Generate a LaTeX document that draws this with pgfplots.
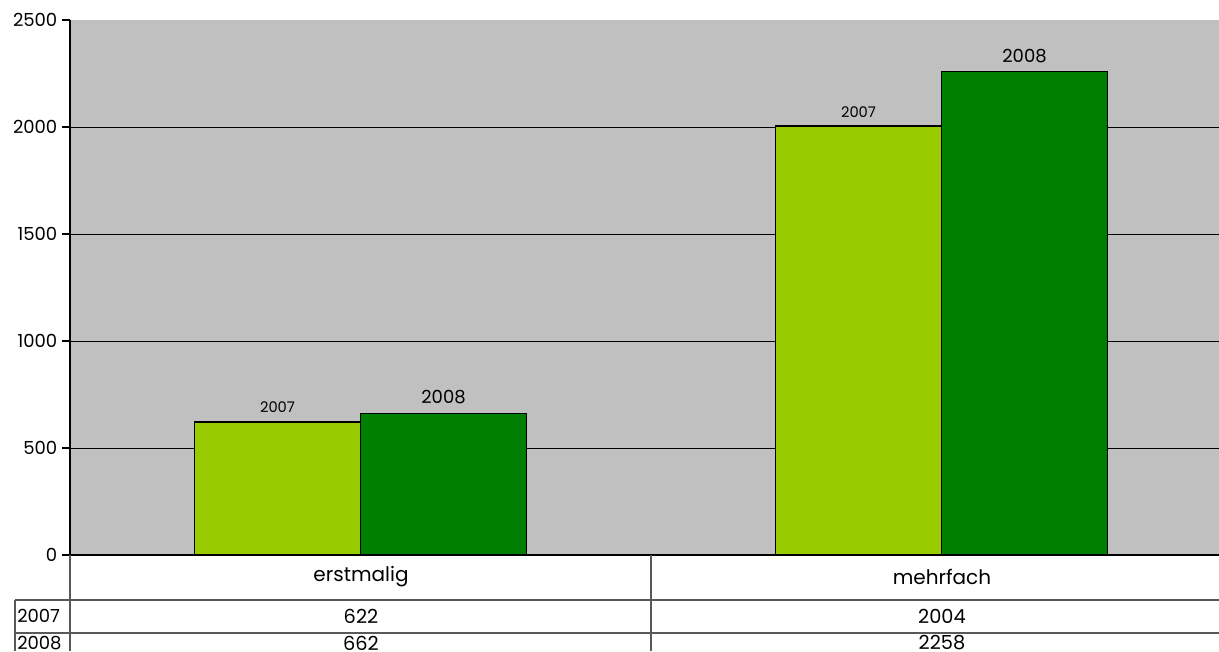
\documentclass[border=0pt]{standalone}
\usepackage{fontspec}
\setmainfont{Poppins}
\usepackage{pgfplots}
\pgfplotsset{compat=1.18}
\definecolor{lgreen}{HTML}{99CC00}
\definecolor{dgreen}{HTML}{008000}
\definecolor{bg}{HTML}{C0C0C0}
\begin{document}
\begin{tikzpicture}[x=0.75pt,y=0.75pt]
\begin{axis}[
  at={(0,0)}, anchor=south west,
  scale only axis, width=861.75pt, height=401.25pt,
  xmin=-0.5, xmax=1.4776, ymin=0, ymax=2500,
  axis lines*=left,
  axis line style={black, line width=1pt},
  axis background/.style={fill=bg},
  ytick={0,500,1000,1500,2000,2500}, xtick=\empty,
  tick align=outside, major tick length=6pt,
  tick style={black, line width=0.8pt},
  /pgf/number format/assume math mode=true,
  /pgf/number format/1000 sep={},
  y tick label style={font=\fontsize{13.5}{15}\selectfont},
  extra y ticks={500,1000,1500,2000}, extra y tick labels={},
  extra y tick style={grid=major, major grid style={black, line width=0.75pt}},
  ybar=0pt, bar width=124.5pt,
]
\addplot[fill=lgreen, draw=black, line width=1pt,
  nodes near coords={2007},
  every node near coord/.append style={font=\fontsize{11}{12}\selectfont, yshift=3pt, black}]
  coordinates {(0,622) (1,2004)};
\addplot[fill=dgreen, draw=black, line width=1pt,
  nodes near coords={2008},
  every node near coord/.append style={font=\fontsize{13.5}{15}\selectfont, yshift=3pt, black}]
  coordinates {(0,662) (1,2258)};
\end{axis}
% data table
\begin{scope}[draw=black!65, line width=1.1pt]
  \draw (0,0) -- (0,-96);
  \draw (581,0) -- (581,-96);
  \draw (-55,-45) -- (1149,-45);
  \draw (-55,-78) -- (1149,-78);
  \draw (-55,-45) -- (-55,-96);
\end{scope}
\begin{scope}[font=\fontsize{15}{17}\selectfont]
  \node at (291,-22) {erstmalig};
  \node at (872,-22) {mehrfach};
\end{scope}
\begin{scope}[font=\fontsize{14.5}{16}\selectfont]
  \node at (291,-61) {622};
  \node at (872,-61) {2004};
  \node at (291,-88) {662};
  \node at (872,-88) {2258};
\end{scope}
\begin{scope}[font=\fontsize{13.5}{15}\selectfont]
  \node[anchor=west, inner sep=0pt] at (-53,-61) {2007};
  \node[anchor=west, inner sep=0pt] at (-53,-88) {2008};
\end{scope}
\pgfresetboundingbox
\path[use as bounding box] (-70,-96) rectangle (1149,555);
\end{tikzpicture}
\end{document}
